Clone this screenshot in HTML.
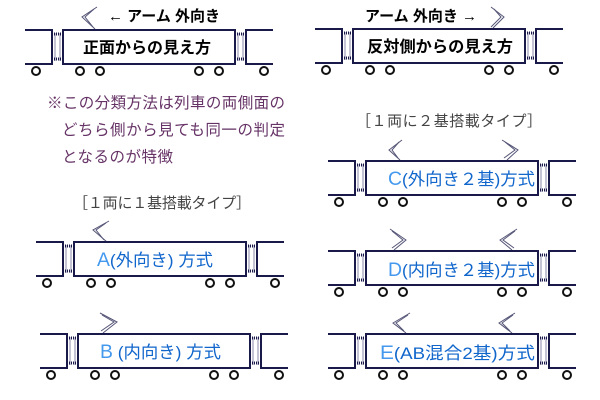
<!DOCTYPE html>
<html><head><meta charset="utf-8"><style>
html,body{margin:0;padding:0;background:#fff;}
svg{display:block;}
text{font-family:"Liberation Sans","Noto Sans CJK JP",sans-serif;}
</style></head><body>
<svg width="600" height="400" viewBox="0 0 600 400" xmlns="http://www.w3.org/2000/svg">
<defs>
<g id="tr">
  <path d="M-38,0 H-11 V34 H-38 M210,0 H183 V34 H210" fill="none" stroke="#1a1a4a" stroke-width="2"/>
  <path d="M-8,3 V31 M-3,3 V31 M175,3 V31 M180,3 V31" stroke="#8888aa" stroke-width="1"/>
  <path d="M-11,4 H0 M-11,29 H0 M172,4 H183 M172,29 H183" stroke="#1a1a4a" stroke-width="3" stroke-dasharray="1,1"/>
  <rect x="0" y="0" width="172" height="34" fill="#fff" stroke="#1a1a4a" stroke-width="2"/>
  <g fill="#fff" stroke="#111" stroke-width="2">
    <circle cx="-27" cy="41" r="4"/><circle cx="17" cy="41" r="4"/><circle cx="37" cy="41" r="4"/>
    <circle cx="136" cy="41" r="4"/><circle cx="156" cy="41" r="4"/><circle cx="201" cy="41" r="4"/>
  </g>
</g>
</defs>
<g fill="none" stroke="#555577" stroke-width="1">
  <polyline points="97,7 82,17 95,29"/><polyline points="94,9 85,17 93,27"/>
  <polyline points="491,7 504,17 493,28"/><polyline points="494,9 501,17 491,27"/>
  <polyline points="109,221 93,230 107,242"/><polyline points="106,223 96,230 104,240"/>
  <polyline points="100,313 117,322 103,333"/><polyline points="102,315 114,322 101,331"/>
  <polyline points="402,140 389,150 400,160"/><polyline points="399,142 392,150 398,158"/>
  <polyline points="502,140 518,150 507,160"/><polyline points="505,142 515,150 504,158"/>
  <polyline points="390,229 406,240 394,250"/><polyline points="392,231 403,240 392,248"/>
  <polyline points="517,229 500,240 512,250"/><polyline points="515,231 503,240 514,248"/>
  <polyline points="410,313 393,323 406,333"/><polyline points="408,315 396,323 404,331"/>
  <polyline points="515,313 499,323 512,333"/><polyline points="513,315 502,323 510,331"/>
</g>
<use href="#tr" x="63" y="30"/>
<use href="#tr" x="353" y="29"/>
<use href="#tr" x="74" y="242"/>
<use href="#tr" x="78" y="334"/>
<use href="#tr" x="366" y="161"/>
<use href="#tr" x="366" y="251"/>
<use href="#tr" x="366" y="334"/>

<g font-weight="bold" fill="#000" font-size="15">
  <text x="108" y="21" textLength="112" lengthAdjust="spacingAndGlyphs">← アーム 外向き</text>
  <text x="365" y="21" textLength="112" lengthAdjust="spacingAndGlyphs">アーム 外向き →</text>
  <text x="83" y="53" font-size="16" textLength="128" lengthAdjust="spacingAndGlyphs">正面からの見え方</text>
  <text x="367" y="52" font-size="16" textLength="146" lengthAdjust="spacingAndGlyphs">反対側からの見え方</text>
</g>
<g fill="#663366" font-size="15.5">
  <text x="47" y="108" textLength="238">※この分類方法は列車の両側面の</text>
  <text x="62" y="135" textLength="223">どちら側から見ても同一の判定</text>
  <text x="62" y="162" textLength="111">となるのが特徴</text>
</g>
<g fill="#444" font-size="15">
  <text x="73" y="208" textLength="178">［１両に１基搭載タイプ］</text>
  <text x="356" y="126" textLength="186">［１両に２基搭載タイプ］</text>
</g>
<g font-size="17" fill="#1166cc">
  <text x="97" y="266" textLength="116" lengthAdjust="spacingAndGlyphs"><tspan fill="#4499ee" font-size="19">A</tspan>(外向き) 方式</text>
  <text x="100" y="358" textLength="121" lengthAdjust="spacingAndGlyphs"><tspan fill="#4499ee" font-size="19">B</tspan> (内向き) 方式</text>
  <text x="388" y="185" textLength="147" lengthAdjust="spacingAndGlyphs"><tspan fill="#4499ee" font-size="19">C</tspan>(外向き２基)方式</text>
  <text x="388" y="276" textLength="147" lengthAdjust="spacingAndGlyphs"><tspan fill="#4499ee" font-size="19">D</tspan>(内向き２基)方式</text>
  <text x="380" y="359" textLength="155" lengthAdjust="spacingAndGlyphs"><tspan fill="#4499ee" font-size="19">E</tspan>(AB混合2基)方式</text>
</g>
</svg>
</body></html>
